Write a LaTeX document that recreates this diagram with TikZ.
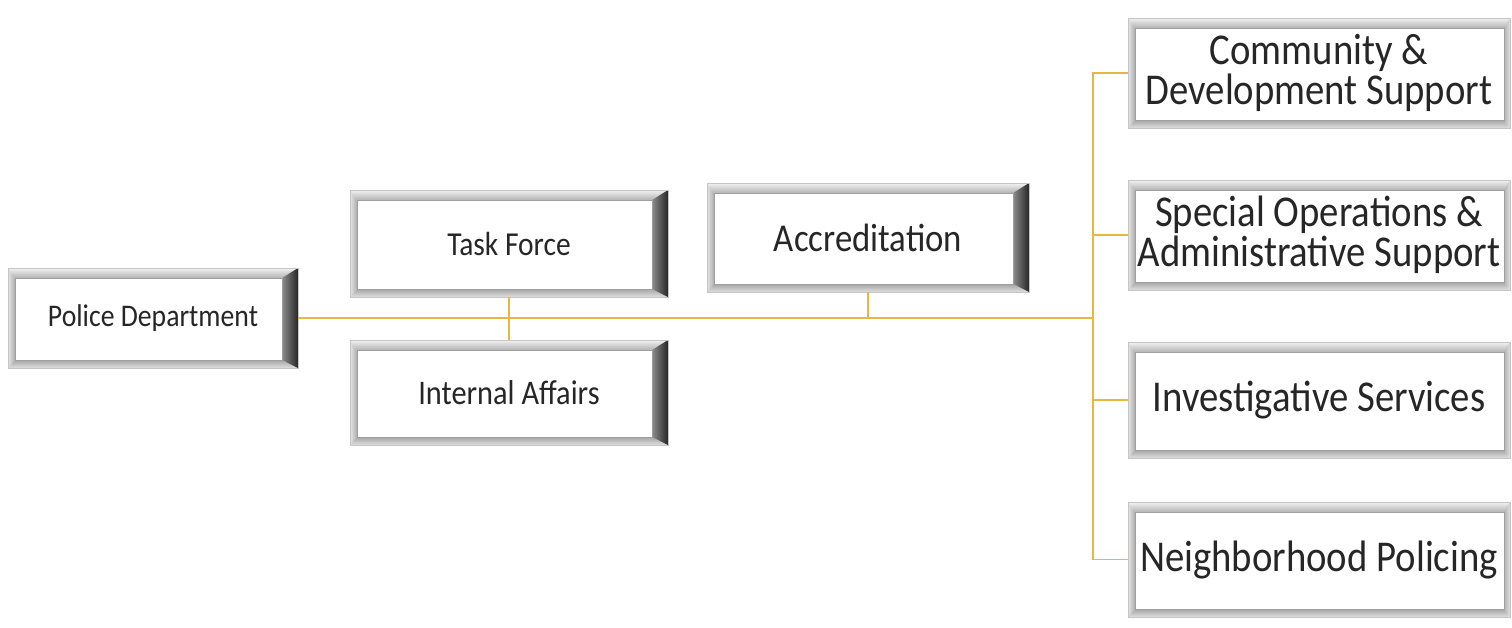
\documentclass[tikz,border=0pt]{standalone}
\usepackage{fontspec}
\setmainfont{Carlito}[FakeStretch=0.88]
\usepackage{tikz}
\usetikzlibrary{calc,positioning}
\definecolor{linkc}{HTML}{E5B842}
\definecolor{txtc}{HTML}{262626}
\newcommand\bevelfaces[2]{%
  \coordinate (bnw) at (path picture bounding box.north west);
  \coordinate (bne) at (path picture bounding box.north east);
  \coordinate (bsw) at (path picture bounding box.south west);
  \coordinate (bse) at (path picture bounding box.south east);
  \coordinate (inw) at ([shift={(7pt,-10pt)}]bnw);
  \coordinate (ine) at ([shift={(-#1,-10pt)}]bne);
  \coordinate (isw) at ([shift={(7pt,8pt)}]bsw);
  \coordinate (ise) at ([shift={(-#1,8pt)}]bse);
  \shade[top color=gray!10,bottom color=gray!60] (bnw)--(bne)--(ine)--(inw)--cycle;
  \shade[left color=gray!20,right color=gray!65] (bnw)--(inw)--(isw)--(bsw)--cycle;
  \shade[top color=gray!70,bottom color=gray!25] (bsw)--(isw)--(ise)--(bse)--cycle;
  \shade[#2] (bne)--(ine)--(ise)--(bse)--cycle;
  \draw[gray!75,line width=0.6pt] (inw) rectangle (ise);
}
\tikzset{
  link/.style={line width=1.8pt,linkc},
  frame/.style={draw=gray!45,line width=0.6pt,fill=white,inner sep=0pt,align=center,text=txtc,
    path picture={\bevelfaces{16pt}{left color=black!45,right color=black!85}}},
  framecut/.style={draw=gray!45,line width=0.6pt,fill=white,inner sep=0pt,align=center,text=txtc,
    minimum width=382pt,font=\fontsize{44}{40}\selectfont,
    path picture={\bevelfaces{6pt}{left color=gray!60,right color=gray!25}}}
}
\begin{document}
\begin{tikzpicture}[x=1pt,y=1pt]
\useasboundingbox[fill=white] (0,-627) rectangle (1512,0);
% left side
\node[frame,minimum width=290pt,minimum height=100pt,font=\fontsize{31.5}{34}\selectfont] (pd) at (153,-318) {Police Department};
\node[frame,minimum width=318pt,minimum height=107pt,font=\fontsize{33.5}{36}\selectfont] (tf) at (509,-243.5) {Task Force};
\node[frame,minimum width=318pt,minimum height=105pt,font=\fontsize{34.5}{37}\selectfont] (ia) at (509,-392.5) {Internal Affairs};
\node[frame,minimum width=322pt,minimum height=109pt,font=\fontsize{39.5}{42}\selectfont] (acc) at (868,-237.5) {Accreditation};
% right side
\node[framecut,minimum height=110pt] (cds) at (1319,-73) {Community \&\\Development Support};
\node[framecut,minimum height=110pt] (sos) at (1319,-235) {Special Operations \&\\Administrative Support};
\node[framecut,minimum height=116pt] (isv) at (1319,-400) {Investigative Services};
\node[framecut,minimum height=115pt] (np) at (1319,-559.5) {Neighborhood Policing};
% connectors
\coordinate (hub) at (1093,-318);
\draw[link] (pd.east) -- (hub);
\draw[link] (tf.south) -- (ia.north);
\draw[link] (acc.south) -- (acc.south |- hub);
\draw[link] (cds.west) -| (hub) |- (np.west);
\draw[link] (hub |- sos.west) -- (sos.west);
\draw[link] (hub |- isv.west) -- (isv.west);
\end{tikzpicture}
\end{document}
